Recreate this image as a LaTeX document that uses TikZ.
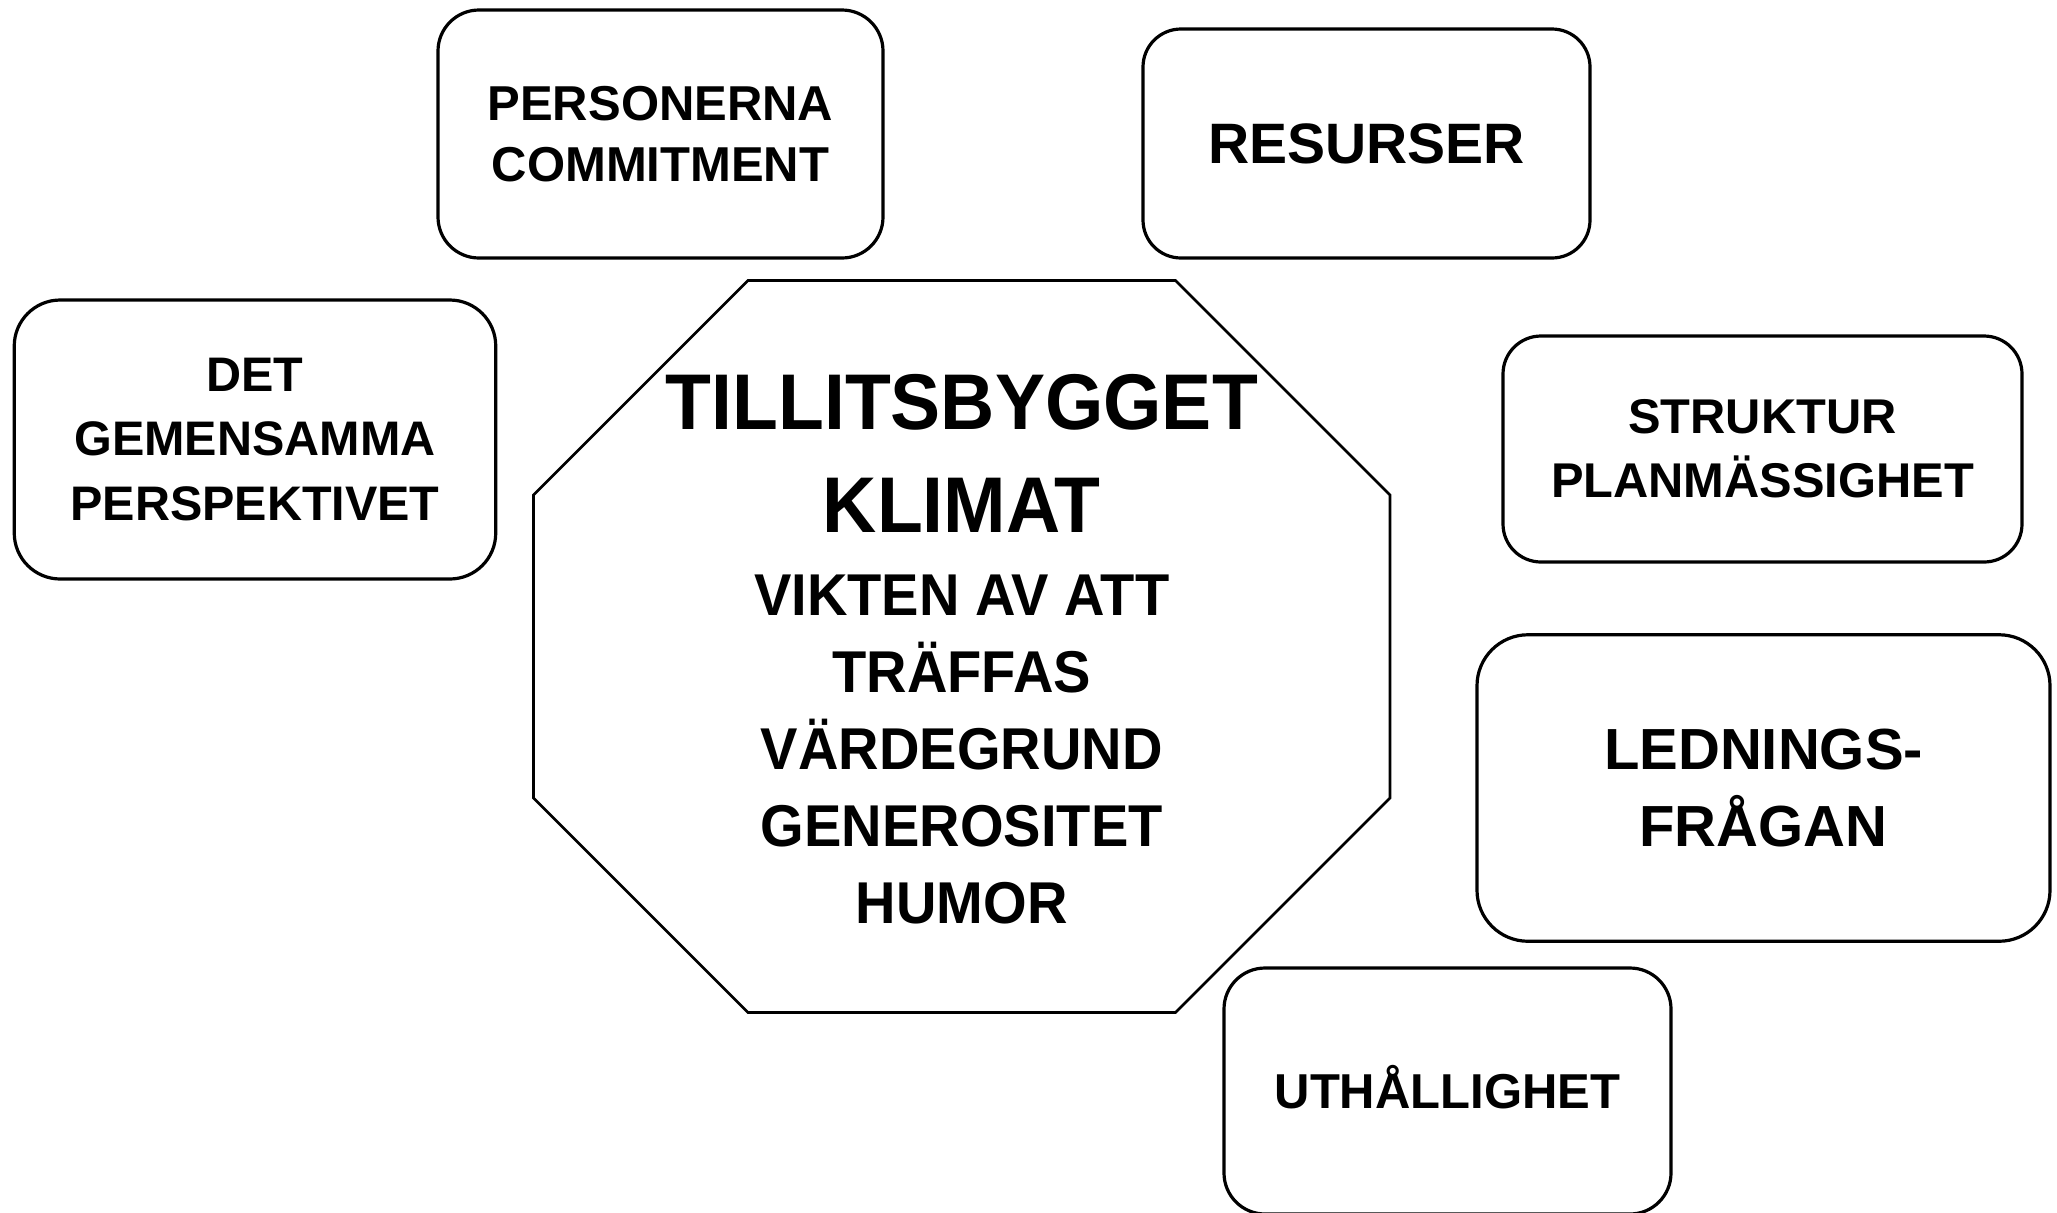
\documentclass[tikz,border=0pt]{standalone}
\usepackage{fontspec}
\setmainfont{Liberation Sans}
\newfontfamily\condfont[FakeStretch=0.95]{Liberation Sans}
\usetikzlibrary{positioning}

\begin{document}
\begin{tikzpicture}[
  x=0.5pt, y=-0.5pt,
  base/.style={
    inner sep=0pt, align=center,
    font=\bfseries,
  },
  topicbox/.style={base, draw=black, fill=white, line width=1.6pt},
  octaline/.style={draw=black, line width=1.3pt, line join=miter},
  titlelbl/.style={base,
    font=\condfont\bfseries\fontsize{39.5}{51.25}\selectfont},
  listlbl/.style={base,
    font=\condfont\bfseries\fontsize{29.5}{38.5}\selectfont},
]

% Canvas (reference pixels, y downwards)
\useasboundingbox (0,0) rectangle (2057,1212);

% Octagon geometry
\def\oL{533.5}
\def\oR{1390}
\def\oLi{748}
\def\oRi{1175.5}
\def\oT{280.5}
\def\oB{1012.5}
\def\oTi{495}
\def\oBi{798}

% ---- Central octagon ----
\draw[octaline]
  (\oLi,\oT) -- (\oRi,\oT) -- (\oR,\oTi) -- (\oR,\oBi) --
  (\oRi,\oB) -- (\oLi,\oB) -- (\oL,\oBi) -- (\oL,\oTi) -- cycle;

\node[titlelbl] (title) at (961.75,453.5) {TILLITSBYGGET\\KLIMAT};
\node[listlbl] (qualities) at (961.75,749.5)
  {VIKTEN AV ATT\\TRÄFFAS\\VÄRDEGRUND\\GENEROSITET\\HUMOR};

% ---- Surrounding boxes ----
\node[topicbox, minimum width=222.5pt, minimum height=124pt,
  rounded corners=20.5pt, font=\bfseries\fontsize{24.5}{30.5}\selectfont]
  (personerna) at (660.5,134) {PERSONERNA\\COMMITMENT};

\node[topicbox, minimum width=223.5pt, minimum height=114.5pt,
  rounded corners=19pt, font=\bfseries\fontsize{28.5}{34}\selectfont]
  (resurser) at (1366.5,143.5) {RESURSER};

\node[topicbox, minimum width=240.75pt, minimum height=139.5pt,
  rounded corners=23pt, font=\bfseries\fontsize{24.25}{32.25}\selectfont]
  (gemensamma) at (255,439.5) {DET\\GEMENSAMMA\\PERSPEKTIVET};

\node[topicbox, minimum width=259.5pt, minimum height=113pt,
  rounded corners=19pt, font=\bfseries\fontsize{24.4}{32}\selectfont]
  (struktur) at (1762.5,449) {STRUKTUR\\PLANMÄSSIGHET};

\node[topicbox, minimum width=286.5pt, minimum height=153.25pt,
  rounded corners=25.5pt, font=\bfseries\fontsize{29}{38.5}\selectfont]
  (ledning) at (1763.5,788) {LEDNINGS-\\FRÅGAN};

\node[topicbox, minimum width=223.5pt, minimum height=123pt,
  rounded corners=20.5pt, font=\bfseries\fontsize{24.5}{30}\selectfont,
  text height=17.5pt, text depth=0pt]
  (uthallighet) at (1447.5,1091) {UTHÅLLIGHET};

\end{tikzpicture}
\end{document}
